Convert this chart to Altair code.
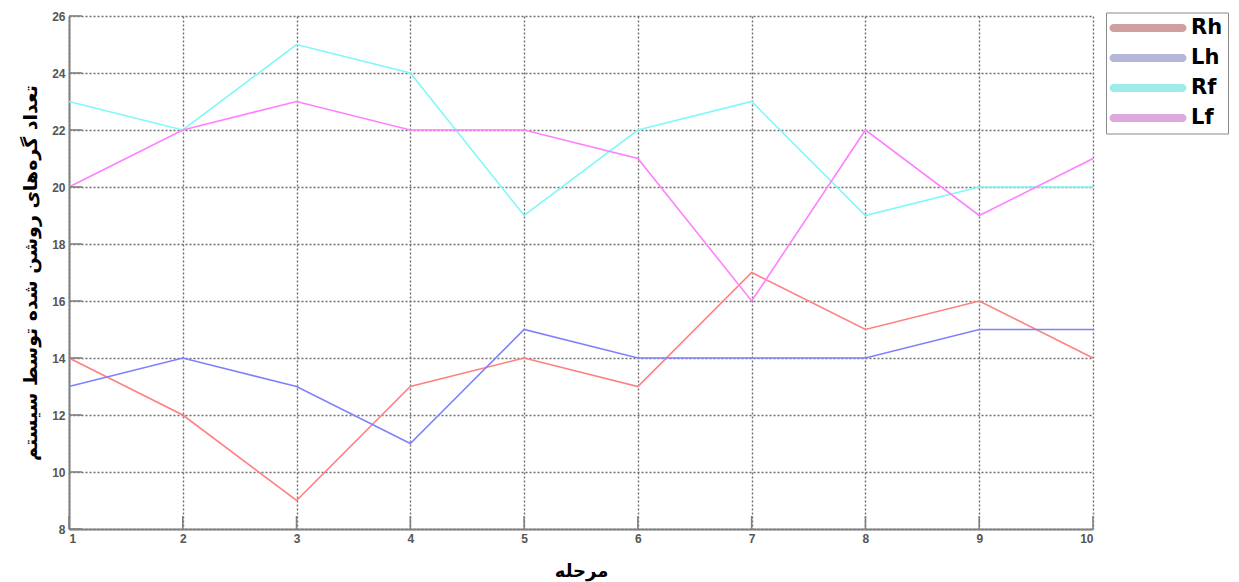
import altair as alt
import pandas as pd

# Stage numbers along the x axis
stages = [1, 2, 3, 4, 5, 6, 7, 8, 9, 10]

# Number of lit nodes per limb at each stage
rh = [14, 12, 9, 13, 14, 13, 17, 15, 16, 14]
lh = [13, 14, 13, 11, 15, 14, 14, 14, 15, 15]
rf = [23, 22, 25, 24, 19, 22, 23, 19, 20, 20]
lf = [20, 22, 23, 22, 22, 21, 16, 22, 19, 21]

series_names = ["Rh", "Lh", "Rf", "Lf"]
line_colors = ["#ff8080", "#8080ff", "#80f8f8", "#ff80ff"]
legend_colors = ["#d0a0a0", "#b6b6da", "#a0ecec", "#dda8dd"]

y_ticks = [8, 10, 12, 14, 16, 18, 20, 22, 24, 26]

rows = []
for name, vals in zip(series_names, [rh, lh, rf, lf]):
    for s, v in zip(stages, vals):
        rows.append({"stage": s, "count": v, "series": name})
df = pd.DataFrame(rows)

W, H = 1024, 513
FONT_TICK = "Liberation Sans"
FONT_FA = "DejaVu Sans"

x_scale = alt.Scale(domain=[1, 10], nice=False, zero=False)
y_scale = alt.Scale(domain=[8, 26], nice=False, zero=False)

x_axis = alt.Axis(
    values=stages, format="d", title="مرحله", titleFont=FONT_FA,
    titleFontSize=18, titleFontWeight="bold", titleColor="#000",
    titleX=W / 2, titleY=42, titleBaseline="middle", titleAlign="center",
    labelPadding=4,
)
y_axis = alt.Axis(
    values=y_ticks, format="d", title="تعداد گره\u200cهای روشن شده توسط سیستم",
    titleFont=FONT_FA, titleFontSize=19, titleFontWeight="bold",
    titleColor="#000", titleAngle=-90, titleX=-39, titleY=H / 2,
    titleBaseline="middle", titleAlign="center", labelPadding=4,
)

X = alt.X("stage:Q", scale=x_scale, axis=x_axis)
Y = alt.Y("count:Q", scale=y_scale, axis=y_axis)

# Line colours keyed in reverse order so this scale stays separate from the legend's
lines = alt.Chart(df).mark_line(strokeWidth=1.6).encode(
    x=X, y=Y,
    stroke=alt.Stroke(
        "series:N",
        scale=alt.Scale(domain=series_names[::-1], range=line_colors[::-1]),
        legend=None,
    ),
    detail="series:N",
)

# Inward-facing tick marks on both axes
ytick_df = pd.DataFrame({"count": y_ticks, "stage": [1] * len(y_ticks)})
xtick_df = pd.DataFrame({"stage": stages, "count": [8] * len(stages)})

yticks = alt.Chart(ytick_df).mark_rule(color="#808080", strokeWidth=1.6).encode(
    y=Y, x=alt.value(0), x2=alt.value(13)
)
xticks = alt.Chart(xtick_df).mark_rule(color="#808080", strokeWidth=1.6).encode(
    x=X, y=alt.value(H), y2=alt.value(H - 13)
)

# Legend drawn from its own color scale with rounded bar swatches
bar_path = "M-1.6,-0.8H12.2A0.8,0.8,0,0,1,12.2,0.8H-1.6A0.8,0.8,0,0,1,-1.6,-0.8Z"
legend_layer = alt.Chart(df).transform_filter("false").mark_point(filled=True, opacity=1).encode(
    x=X, y=Y,
    color=alt.Color(
        "series:N",
        scale=alt.Scale(domain=series_names, range=legend_colors),
        legend=alt.Legend(
            title=None, orient="none", legendX=1037, legendY=-3.5,
            symbolType=bar_path, symbolSize=100, symbolStrokeWidth=0,
            symbolOpacity=1, labelFont=FONT_FA, labelFontSize=21,
            labelFontWeight="bold", labelColor="#000", labelOffset=59,
            rowPadding=8, padding=5, strokeColor="#8a8a8a",
            fillColor="#ffffff", labelLimit=200,
        ),
    ),
)

chart = alt.layer(lines, yticks, xticks, legend_layer).properties(
    width=W, height=H,
    autosize=alt.AutoSizeParams(type="none"),
    padding={"left": 69, "top": 16, "right": 146, "bottom": 53},
    background="#ffffff",
).configure_view(stroke=None).configure_axis(
    domainColor="#808080", domainWidth=2, ticks=False,
    grid=True, gridColor="#6e6e6e", gridDash=[2, 2], gridWidth=1.4,
    labelFont=FONT_TICK, labelFontSize=12, labelFontWeight="bold",
    labelColor="#555555",
)

chart.save("out.html", embed_options={"renderer": "svg", "actions": False})
